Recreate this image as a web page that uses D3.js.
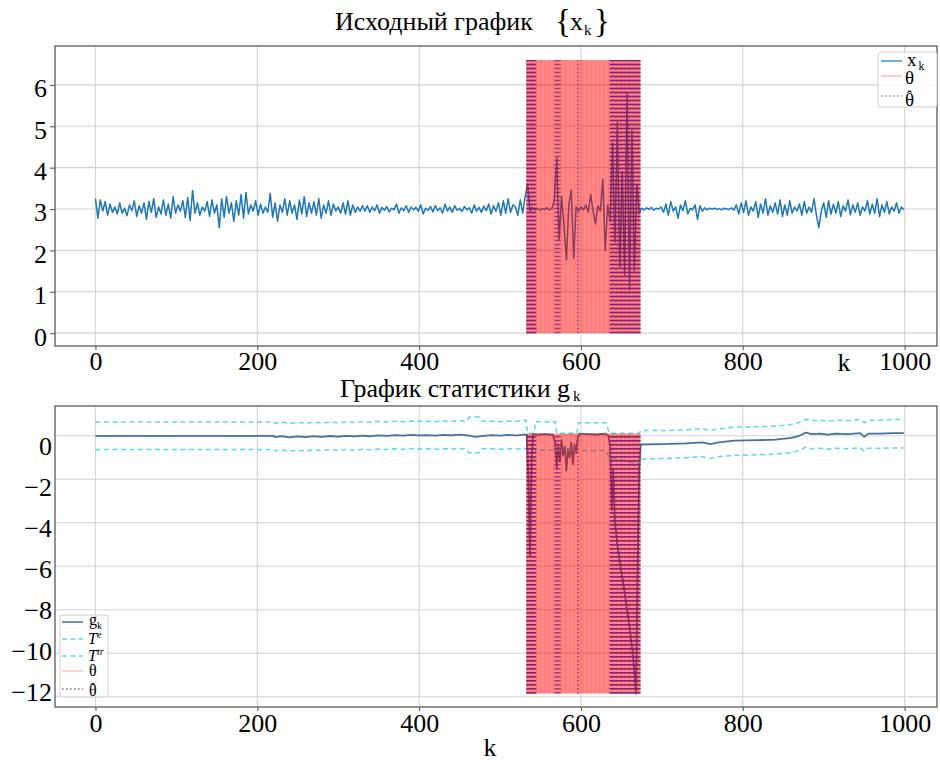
<!DOCTYPE html>
<html><head><meta charset="utf-8">
<script src="https://cdn.jsdelivr.net/npm/d3@7"></script>
<style>
body{margin:0;background:#fff}
svg{display:block}
text{font-family:"Liberation Serif","DejaVu Serif",serif;fill:#000}
</style>
</head><body>
<svg id="c" width="940" height="762"></svg>
<script>
// ---------- data ----------
const xkStep = 3; // x_k sampled every 3rd k, k = 0..999
const xk = [
3.25,2.78,3.22,2.95,3.18,2.85,3.12,2.92,3.05,2.88,
3.15,2.9,3.02,2.84,3.1,2.96,3.2,2.82,3.08,2.9,
3.15,2.75,3.18,2.92,3.25,2.8,3.05,2.88,3.22,2.85,
3.12,2.78,3.3,2.9,3.1,2.95,3.2,2.8,3.28,2.72,
3.45,2.9,3.15,2.85,3.05,2.95,3.18,2.82,3.22,2.9,
3.1,2.55,3.25,2.8,3.3,2.9,3.15,2.7,3.2,2.85,
3.35,2.78,3.4,2.88,3.1,2.95,3.2,2.85,3.12,2.9,
3.05,2.92,3.38,2.8,3.15,2.7,3.1,2.92,3.25,2.85,
3.2,2.9,3.1,2.75,3.22,2.88,3.3,2.82,3.15,2.9,
3.18,2.85,3.25,2.78,3.1,2.9,3.2,2.85,3.12,2.95,
3.05,2.9,3.15,2.88,3.2,2.85,3.1,2.92,3.05,2.95,3.08,
2.95,3.08,2.92,3.05,2.96,3.1,2.9,3.04,2.97,3.06,
2.93,3.02,2.98,3.12,2.9,3.03,2.96,3.08,2.92,3.05,
2.98,3.04,2.95,3.1,2.88,3.02,2.97,3.06,2.93,3.08,
2.96,3.03,2.9,3.12,2.95,3.05,2.92,3.08,2.97,3.02,
2.94,3.06,2.98,3.03,2.9,3.1,2.95,3.04,2.92,3.07,
2.96,3.12,2.88,3.08,2.95,3.15,2.85,3.2,2.9,3.25,2.92,3.1,3.05,
2.85,3.22,2.9,3.3,3.6,
2.95,3.03,2.98,3.02,2.97,3.01,2.99,3.03,2.98,3.0,
3.2,4.23,2.25,3.3,2.6,1.77,3.1,3.46,1.81,3.05,
2.95,3.05,2.98,3.1,2.92,3.35,2.95,
2.64,3.08,2.95,3.72,1.99,3.1,
2.7,4.6,2.2,5.1,1.6,3.9,1.4,5.8,1.05,4.9,1.5,3.6,2.9,
3.02,2.98,3.03,2.99,3.04,2.97,3.02,3.0,3.05,
2.92,3.12,2.85,3.18,2.95,3.05,2.78,3.1,2.96,3.2,2.88,3.02,2.98,3.1,2.75,3.08,2.95,3.03,2.98,3.02,
3.0,3.02,2.99,3.01,2.98,3.02,3.0,2.99,3.03,2.97,
3.1,2.88,3.15,2.92,3.2,2.85,3.05,2.95,3.18,2.8,
3.12,2.9,3.25,2.85,3.08,2.92,3.15,2.88,3.22,2.82,
3.1,2.85,3.2,2.9,3.05,2.95,3.12,2.85,3.18,2.9,
3.05,2.92,3.25,2.85,2.55,2.95,3.15,2.8,3.2,2.88,
3.12,2.9,3.18,2.82,3.08,2.95,3.22,2.86,3.1,2.92,
3.15,2.85,3.05,2.95,3.2,2.88,3.12,2.9,3.25,2.82,
3.1,2.92,3.18,2.88,3.05,2.95,3.15,2.9,3.05,2.98
];
const gSeries = [[0,0],[220,0],[222,-0.06],[230,-0.02],[240,-0.07],[250,-0.03],[260,-0.06],[270,-0.02],[280,-0.05],[290,-0.01],[300,-0.04],[310,0],[320,-0.03],[330,0.01],[340,-0.02],[350,0.02],[360,0],[370,0.03],[380,0.01],[390,0.04],[400,0.02],[410,0.03],[420,0.01],[430,0.04],[440,0.02],[450,0.05],[460,0.02],[470,-0.05],[480,0],[490,0.03],[500,0.01],[510,0.04],[520,0.02],[530,0.05],
[533,0.05],[535,-2.0],[537,-5.5],[539,-1.0],[541,0.1],[545,0.05],[555,0.08],[565,0.05],
[568,-0.3],[570,-1.5],[572,-0.4],[574,-1.2],[576,-0.2],[578,-0.9],[580,-0.5],[582,-1.6],[584,-0.6],[586,-1.0],[588,-0.3],[590,-1.3],[592,-0.4],[594,-0.8],[596,-0.1],[598,0.1],
[610,0.08],[620,0.06],[630,0.1],[634,0.0],[636,-0.5],[638,-3.4],[640,-1.5],[642,-4.0],[645,-5.0],[648,-5.8],[651,-6.5],[654,-7.2],[657,-8.0],[660,-8.8],[663,-9.7],[666,-10.8],[668,-11.85],[670,-6.0],[672,-1.5],[674,-0.4],
[700,-0.38],[730,-0.35],[750,-0.3],[760,-0.38],[770,-0.3],[790,-0.22],[820,-0.2],[840,-0.18],[860,-0.1],[870,0.0],[878,0.15],[885,0.08],[895,0.1],[905,0.05],[915,0.1],[930,0.08],[945,0.12],[950,-0.05],[955,0.1],[970,0.1],[985,0.12],[999,0.12]];
const teSeries = [[0,0.64],[220,0.64],[222,0.58],[230,0.62],[240,0.57],[250,0.61],[260,0.58],[270,0.62],[280,0.59],[290,0.63],[300,0.6],[310,0.64],[320,0.61],[330,0.65],[340,0.62],[350,0.66],[360,0.64],[370,0.67],[380,0.65],[390,0.68],[400,0.66],[410,0.67],[420,0.65],[430,0.68],[440,0.66],[450,0.69],[458,0.66],[462,0.86],[474,0.86],[478,0.67],[490,0.67],[500,0.65],[510,0.68],[520,0.66],[532,0.72],[534,0.12],[542,0.12],[544,0.65],[568,0.65],[570,0.12],[595,0.12],[597,0.6],[631,0.6],[635,0.12],[672,0.12],[674,0.24],[700,0.24],[730,0.27],[750,0.32],[760,0.25],[770,0.32],[790,0.4],[820,0.42],[840,0.44],[860,0.52],[870,0.62],[878,0.76],[885,0.7],[895,0.72],[905,0.67],[915,0.72],[930,0.7],[945,0.74],[950,0.6],[955,0.72],[970,0.72],[985,0.74],[999,0.76]];
const ttrSeries = [[0,-0.63],[220,-0.63],[222,-0.69],[230,-0.65],[240,-0.7],[250,-0.66],[260,-0.69],[270,-0.65],[280,-0.68],[290,-0.64],[300,-0.67],[310,-0.63],[320,-0.66],[330,-0.62],[340,-0.65],[350,-0.61],[360,-0.63],[370,-0.6],[380,-0.62],[390,-0.59],[400,-0.61],[410,-0.6],[420,-0.62],[430,-0.59],[440,-0.61],[450,-0.58],[458,-0.61],[462,-0.78],[474,-0.78],[478,-0.6],[490,-0.6],[500,-0.62],[510,-0.59],[520,-0.61],[532,-0.58],[534,-1.1],[542,-1.1],[544,-0.64],[568,-0.66],[570,-0.66],[595,-0.7],[597,-0.68],[631,-0.68],[635,-1.0],[672,-1.3],[674,-1.07],[700,-1.04],[730,-1.01],[750,-0.96],[760,-1.04],[770,-0.96],[790,-0.9],[820,-0.87],[840,-0.85],[860,-0.77],[870,-0.67],[878,-0.52],[885,-0.6],[895,-0.57],[905,-0.62],[915,-0.57],[930,-0.6],[945,-0.55],[950,-0.7],[955,-0.57],[970,-0.58],[985,-0.56],[999,-0.56]];
const thetaRange = [533, 673];          // true change interval θ (every k)
const thetaTopSpan = [0, 6.6];           // vertical extent in top panel
const thetaBotSpan = [-11.85, 0.1];      // vertical extent in bottom panel
const hatK = [533,534,535,536,537,538,539,540,541,542,543,544,568,570,572,574,596,
636,637,638,639,640,641,642,643,644,645,646,647,648,649,650,651,652,653,654,655,656,657,658,659,660,661,662,663,664,665,666,667,668,669,670,671,672,673];
const xTicks = [0,200,400,600,800,1000];
const yTopTicks = [0,1,2,3,4,5,6];
const yBotTicks = [0,-2,-4,-6,-8,-10,-12];

// ---------- layout ----------
const svg = d3.select("#c");
const L = 55, R = 937;
const T1 = 46, B1 = 346, T2 = 406, B2 = 707;
const x = d3.scaleLinear().domain([-50, 1040]).range([L, R]);
const yT = d3.scaleLinear().domain([-0.31, 6.94]).range([B1, T1]);
const yB = d3.scaleLinear().domain([-12.47, 1.37]).range([B2, T2]);
const yBLab = d3.scaleLinear().domain([0, -12]).range([446, 692]);

const C_X = "#1f77b4", C_G = "#44729a", C_T = "#3fd6d6", C_TH = "red", C_HAT = "#781670";

const defs = svg.append("defs");
defs.append("clipPath").attr("id","cp1").append("rect").attr("x",L).attr("y",T1).attr("width",R-L).attr("height",B1-T1);
defs.append("clipPath").attr("id","cp2").append("rect").attr("x",L).attr("y",T2).attr("width",R-L).attr("height",B2-T2);

function rich(parent, x0, y0, parts, size, anchor){
  const t = parent.append("text").attr("x",x0).attr("y",y0).attr("font-size",size).attr("text-anchor",anchor||"start");
  let shift = 0;
  parts.forEach(p=>{
    const s = t.append("tspan").text(p.t);
    const target = p.sub ? size*0.22 : p.sup ? -size*0.36 : 0;
    s.attr("dy", target - shift); shift = target;
    if (p.sub || p.sup) s.attr("font-size", size*0.62);
    if (p.size) s.attr("font-size", p.size);
    if (p.it) s.attr("font-style","italic");
    if (p.dx) s.attr("dx", p.dx);
    if (p.x !== undefined) s.attr("x", p.x);
  });
  return t;
}
// θ with a circumflex placed above it, as one text element
function thetaHat(parent, x0, y0, size){
  const t = parent.append("text").attr("x",x0).attr("y",y0).attr("font-size",size);
  t.append("tspan").text("θ");
  t.append("tspan").attr("font-size",size*0.85).attr("dx",-size*0.39).attr("dy",-size*0.2).text("ˆ");
}

function grid(g, yS, ticks, y0, y1){
  g.selectAll(null).data(xTicks).join("line")
    .attr("x1",d=>x(d)).attr("x2",d=>x(d)).attr("y1",y0).attr("y2",y1)
    .attr("stroke","#d4d4d4").attr("stroke-width",1.1);
  g.selectAll(null).data(ticks).join("line")
    .attr("x1",L).attr("x2",R).attr("y1",d=>yS(d)).attr("y2",d=>yS(d))
    .attr("stroke","#d4d4d4").attr("stroke-width",1.1);
}
function vlines(g, yS, ks, span, color, op, w, dash){
  const s = g.selectAll(null).data(ks).join("line")
    .attr("x1",d=>x(d)).attr("x2",d=>x(d))
    .attr("y1",yS(span[0])).attr("y2",yS(span[1]))
    .attr("stroke",color).attr("stroke-opacity",op).attr("stroke-width",w);
  if (dash) s.attr("stroke-dasharray",dash);
}
function frame(y0, y1){
  svg.append("rect").attr("x",L).attr("y",y0).attr("width",R-L).attr("height",y1-y0)
    .attr("fill","none").attr("stroke","#5a5a5a").attr("stroke-width",1.3);
}
function styleAxis(a){
  a.select(".domain").remove();
  a.selectAll(".tick line").attr("stroke","#5a5a5a").attr("stroke-width",1.1);
  a.selectAll("text").attr("font-family",'"Liberation Serif",serif').attr("font-size",26).attr("fill","#000");
}

const thetaK = d3.range(thetaRange[0], thetaRange[1] + 1);
const lineX = d3.line().x(d=>x(d[0])).y(d=>yT(d[1]));
const lineB = d3.line().x(d=>x(d[0])).y(d=>yB(d[1]));

// ---------- top panel ----------
const p1 = svg.append("g");
grid(p1, yT, yTopTicks, T1, B1);
const c1 = p1.append("g").attr("clip-path","url(#cp1)");
c1.append("path").datum(xk.map((v,i)=>[i*xkStep, v])).attr("d",lineX)
  .attr("fill","none").attr("stroke",C_X).attr("stroke-width",1.5).attr("stroke-linejoin","round");
vlines(c1, yT, thetaK, thetaTopSpan, C_TH, 0.5, 0.9);
vlines(c1, yT, hatK, thetaTopSpan, C_HAT, 0.72, 1.5, "1.5,2.5");
frame(T1, B1);
const ax1 = svg.append("g").attr("transform",`translate(0,${B1})`)
  .call(d3.axisBottom(x).tickValues(xTicks).tickSize(4).tickPadding(2).tickFormat(d3.format("d")));
styleAxis(ax1);
const ay1 = svg.append("g").attr("transform",`translate(${L},0)`)
  .call(d3.axisLeft(yT).tickValues(yTopTicks).tickSize(5).tickPadding(3).tickFormat(d3.format("d")));
styleAxis(ay1);
ay1.selectAll("text").attr("y",3.5);
svg.append("text").attr("x",844).attr("y",371).attr("font-size",26).attr("text-anchor","middle").text("k");

// title 1
const t1 = svg.append("text").attr("x",335).attr("y",30).attr("font-size",26);
t1.append("tspan").text("Исходный график");
t1.append("tspan").attr("x",555).attr("font-size",33).attr("dy",2).text("{");
t1.append("tspan").attr("x",570).attr("dy",-2).text("x");
t1.append("tspan").attr("x",584).attr("font-size",15).attr("dy",5).text("k");
t1.append("tspan").attr("x",594).attr("font-size",33).attr("dy",-3).text("}");

// legend 1
const lg1 = svg.append("g");
lg1.append("rect").attr("x",878).attr("y",52).attr("width",59).attr("height",55).attr("rx",3)
  .attr("fill","#fff").attr("fill-opacity",0.85).attr("stroke","#d0d0d0").attr("stroke-width",1);
lg1.append("line").attr("x1",881).attr("x2",902).attr("y1",61).attr("y2",61).attr("stroke",C_X).attr("stroke-opacity",0.8).attr("stroke-width",1.5);
lg1.append("line").attr("x1",881).attr("x2",902).attr("y1",76).attr("y2",76).attr("stroke",C_TH).attr("stroke-opacity",0.4).attr("stroke-width",1);
lg1.append("line").attr("x1",881).attr("x2",902).attr("y1",96).attr("y2",96).attr("stroke","#800080").attr("stroke-opacity",0.5).attr("stroke-width",1.5).attr("stroke-dasharray","1.5,2.5");
rich(lg1, 907, 66, [{t:"x"},{t:"k",sub:true,dx:2}], 19);
rich(lg1, 905, 84, [{t:"θ"}], 19);
thetaHat(lg1, 905, 106, 19);

// ---------- bottom panel ----------
const p2 = svg.append("g");
grid(p2, yB, yBotTicks, T2, B2);
const c2 = p2.append("g").attr("clip-path","url(#cp2)");
c2.append("path").datum(gSeries).attr("d",lineB).attr("fill","none").attr("stroke",C_G).attr("stroke-width",1.8).attr("stroke-linejoin","round");
c2.append("path").datum(teSeries).attr("d",lineB).attr("fill","none").attr("stroke",C_T).attr("stroke-opacity",0.85).attr("stroke-width",1.5).attr("stroke-dasharray","5,3.5");
c2.append("path").datum(ttrSeries).attr("d",lineB).attr("fill","none").attr("stroke",C_T).attr("stroke-opacity",0.85).attr("stroke-width",1.5).attr("stroke-dasharray","5,3.5");
vlines(c2, yB, thetaK, thetaBotSpan, C_TH, 0.5, 0.9);
vlines(c2, yB, hatK, thetaBotSpan, C_HAT, 0.72, 1.5, "1.5,2.5");
frame(T2, B2);
const ax2 = svg.append("g").attr("transform",`translate(0,${B2})`)
  .call(d3.axisBottom(x).tickValues(xTicks).tickSize(4).tickPadding(3).tickFormat(d3.format("d")));
styleAxis(ax2);
const ay2 = svg.append("g").attr("transform",`translate(${L},0)`)
  .call(d3.axisLeft(yBLab).tickValues(yBotTicks).tickSize(0).tickPadding(3).tickFormat(d3.format("d")));
styleAxis(ay2);
svg.append("text").attr("x",490).attr("y",756).attr("font-size",26).attr("text-anchor","middle").text("k");

// title 2
const t2 = svg.append("text").attr("x",340).attr("y",397).attr("font-size",26);
t2.append("tspan").text("График статистики g");
t2.append("tspan").attr("x",573).attr("font-size",15).attr("dy",4).text("k");

// legend 2
const lg2 = svg.append("g");
lg2.append("rect").attr("x",60).attr("y",615).attr("width",48).attr("height",82).attr("rx",3)
  .attr("fill","#fff").attr("fill-opacity",0.85).attr("stroke","#d0d0d0").attr("stroke-width",1);
lg2.append("line").attr("x1",62).attr("x2",83).attr("y1",622).attr("y2",622).attr("stroke",C_G).attr("stroke-opacity",0.85).attr("stroke-width",1.8);
lg2.append("line").attr("x1",62).attr("x2",83).attr("y1",639).attr("y2",639).attr("stroke",C_T).attr("stroke-opacity",0.85).attr("stroke-width",1.5).attr("stroke-dasharray","5,3.5");
lg2.append("line").attr("x1",62).attr("x2",83).attr("y1",656).attr("y2",656).attr("stroke",C_T).attr("stroke-opacity",0.85).attr("stroke-width",1.5).attr("stroke-dasharray","5,3.5");
lg2.append("line").attr("x1",62).attr("x2",83).attr("y1",671).attr("y2",671).attr("stroke",C_TH).attr("stroke-opacity",0.35).attr("stroke-width",1);
lg2.append("line").attr("x1",62).attr("x2",83).attr("y1",689).attr("y2",689).attr("stroke","#6a4a70").attr("stroke-opacity",0.8).attr("stroke-width",1.5).attr("stroke-dasharray","1.5,2.5");
rich(lg2, 89, 625, [{t:"g"},{t:"k",sub:true}], 16);
rich(lg2, 88, 644, [{t:"T",it:true},{t:"e",sup:true,it:true}], 16);
rich(lg2, 88, 661, [{t:"T",it:true},{t:"tr",sup:true,it:true}], 16);
rich(lg2, 89, 676, [{t:"θ"}], 16);
thetaHat(lg2, 89, 696, 16);
</script>
</body></html>
